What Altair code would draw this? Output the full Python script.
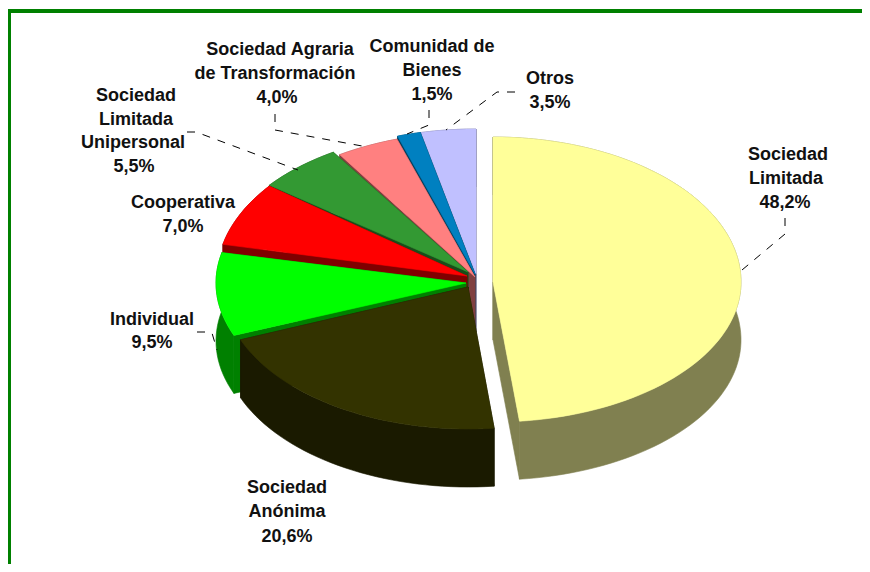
import math
import altair as alt
import pandas as pd

# --- chart values ---
names = ["Sociedad Limitada", "Sociedad Anónima", "Individual", "Cooperativa",
         "Sociedad Limitada Unipersonal", "Sociedad Agraria de Transformación",
         "Comunidad de Bienes", "Otros"]
values = [48.2, 20.6, 9.5, 7.0, 5.5, 4.0, 1.5, 3.5]
top_colors = ["#FFFF99", "#333300", "#00FF00", "#FF0000", "#339933", "#FF8080", "#0080C0", "#C0C0FF"]
side_colors = ["#808050", "#1A1A00", "#008000", "#800000", "#1A4D1A", "#804040", "#004060", "#606080"]

# --- 3D pie projection of each slice (centre x, centre y, rx, ry back, ry front) ---
cxs = [493, 468, 466, 467, 468, 475, 475, 476]
cys = [282, 287, 283, 276, 272, 277, 274, 274]
rxs = [248, 245, 250, 250, 251, 252, 250, 252]
rbs = [145, 142, 141, 147, 142, 145, 145, 145]
rfs = [140, 142, 141, 147, 142, 145, 145, 145]
depth = 58

# --- labels: line text, x, y ---
label_text = ["Sociedad", "Limitada", "48,2%",
              "Sociedad", "Anónima", "20,6%",
              "Individual", "9,5%",
              "Cooperativa", "7,0%",
              "Sociedad", "Limitada", "Unipersonal", "5,5%",
              "Sociedad Agraria", "de Transformación", "4,0%",
              "Comunidad de", "Bienes", "1,5%",
              "Otros", "3,5%"]
label_x = [788, 786, 785, 287, 287, 287, 152, 152, 183, 183, 136, 136, 133, 134, 280, 275, 277, 432, 432, 432, 550, 550]
label_y = [155, 179, 203, 488, 512, 537, 320, 343, 203, 227, 96, 120, 143, 167, 50, 74, 98, 47, 71, 95, 79, 103]

leaders = [
    [(785, 218), (785, 234), (742, 270)],
    [(197, 332), (205, 332), (212, 333), (217, 350)],
    [(187, 132), (196, 132), (298, 170)],
    [(275, 114), (275, 130), (362, 146)],
    [(429, 110), (429, 125), (407, 134)],
    [(515, 92), (497, 92), (446, 130)],
]

total = sum(values)
edges = [0.0]
for v in values:
    edges.append(edges[-1] + v / total * 360)


def pt(i, deg):
    r = math.radians(deg)
    c = math.cos(r)
    b = rbs[i] if c >= 0 else rfs[i]
    return cxs[i] + rxs[i] * math.sin(r), cys[i] - b * c


rows = []
pid = 0


def add(points, colour):
    global pid
    closed = list(points) + [points[0]]
    for k, (x, y) in enumerate(closed):
        rows.append({"poly": f"p{pid:03d}", "k": k, "x": x, "y": y, "colour": colour})
    pid += 1


# painter's order: back slices first
for i in [7, 6, 5, 4, 3, 2, 1, 0]:
    a0, a1 = edges[i], edges[i + 1]
    n = max(4, int((a1 - a0) / 2))
    arc = [pt(i, a0 + (a1 - a0) * t / n) for t in range(n + 1)]
    apex = (cxs[i], cys[i])
    # cut faces
    for e in (arc[0], arc[-1]):
        add([apex, e, (e[0], e[1] + depth), (apex[0], apex[1] + depth)], side_colors[i])
    # outer wall
    add(arc + [(x, y + depth) for x, y in reversed(arc)], side_colors[i])
    # top
    add([apex] + arc, top_colors[i])

poly_df = pd.DataFrame(rows)

lead_rows = []
for j, line in enumerate(leaders):
    for k, (x, y) in enumerate(line):
        lead_rows.append({"line": f"l{j}", "k": k, "x": x, "y": y})
lead_df = pd.DataFrame(lead_rows)

label_df = pd.DataFrame({"t": label_text, "x": label_x, "y": label_y})

X = alt.Scale(domain=[8, 862], nice=False, zero=False)
Y = alt.Scale(domain=[564, 8], nice=False, zero=False)
xe = alt.X("x:Q", scale=X, axis=None)
ye = alt.Y("y:Q", scale=Y, axis=None)

polys = alt.Chart(poly_df).mark_line(strokeWidth=0.6, clip=False).encode(
    x=xe, y=ye,
    order=alt.Order("k:Q"),
    detail="poly:N",
    fill=alt.Fill("colour:N", scale=None),
    stroke=alt.Stroke("colour:N", scale=None),
)

lead = alt.Chart(lead_df).mark_line(color="#000000", strokeWidth=1, strokeDash=[8, 8]).encode(
    x=xe, y=ye, order=alt.Order("k:Q"), detail="line:N"
)

labels = alt.Chart(label_df).mark_text(
    font="Liberation Sans", fontWeight="bold", fontSize=18, color="#111111",
    align="center", baseline="middle"
).encode(x=xe, y=ye, text="t:N")

frame_v = alt.Chart(pd.DataFrame({"x": [9, 9], "y": [9, 564], "k": [0, 1]})).mark_line(
    color="#008000", strokeWidth=4).encode(x=xe, y=ye, order=alt.Order("k:Q"))
frame_h = alt.Chart(pd.DataFrame({"x": [8, 862], "y": [11, 11], "k": [0, 1]})).mark_line(
    color="#008000", strokeWidth=4).encode(x=xe, y=ye, order=alt.Order("k:Q"))

chart = alt.layer(polys, lead, labels, frame_v, frame_h).properties(
    width=854, height=556, padding=0, autosize=alt.AutoSizeParams(type="none"),
    background="white"
).configure_view(stroke=None)

chart.save("out.html", embed_options={"renderer": "svg", "actions": False})
